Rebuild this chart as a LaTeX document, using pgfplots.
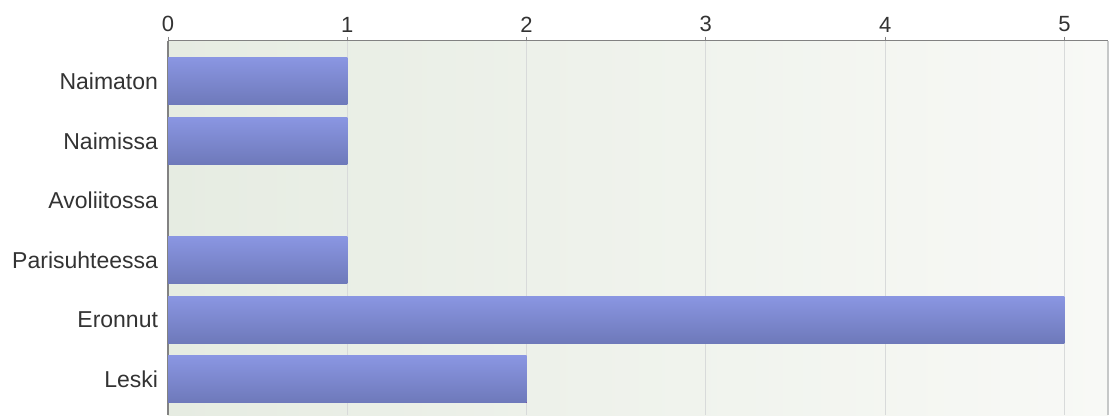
\documentclass[border=0pt]{standalone}
\usepackage{fontspec}
\setmainfont{Liberation Sans}
\usepackage{pgfplots}
\pgfplotsset{compat=1.18}
\definecolor{bartop}{RGB}{138,150,226}
\definecolor{barbot}{RGB}{110,121,186}
\definecolor{bgl}{RGB}{230,236,226}
\definecolor{bgr}{RGB}{248,249,246}
\definecolor{gridc}{RGB}{216,218,218}
\definecolor{axc}{RGB}{130,130,130}
\definecolor{txt}{RGB}{51,51,51}
\begin{document}
\begin{tikzpicture}[x=1pt,y=1pt]
\begin{axis}[
  at={(168pt,0pt)}, anchor=south west,
  scale only axis, width=940pt, height=374.3pt,
  xmin=0, xmax=5.243,
  ymin=-0.68, ymax=5.6,
  y dir=reverse,
  xbar, bar width=0.79, bar shift=0pt,
  axis x line*=top, axis y line*=left,
  axis line style={draw=axc, line width=1.3pt},
  axis background/.style={left color=bgl, right color=bgr},
  xtick={0,1,2,3,4,5},
  xtick align=outside, major tick length=4pt,
  xtick style={draw=axc, line width=1pt},
  ytick={0,1,2,3,4,5},
  yticklabels={Naimaton,Naimissa,Avoliitossa,Parisuhteessa,Eronnut,Leski},
  ytick style={draw=none},
  xmajorgrids, major grid style={draw=gridc, line width=1.2pt},
  ticklabel style={text=txt},
  yticklabel style={font=\fontsize{23}{25}\selectfont, xshift=-2.5pt},
  xticklabel style={font=\fontsize{22}{24}\selectfont},
  /pgf/number format/assume math mode=true,
  xticklabel shift=1pt,
  every axis plot/.append style={draw=none, top color=bartop, bottom color=barbot},
  clip=false,
]
\addplot coordinates {(1,0)};
\addplot coordinates {(1,1)};
\addplot coordinates {(1,3)};
\addplot coordinates {(5,4)};
\addplot coordinates {(2,5)};
\draw[draw=gridc!80!gray, line width=1.3pt] (rel axis cs:1,0) -- (rel axis cs:1,1);
\end{axis}
\pgfresetboundingbox
\useasboundingbox (0,0) rectangle (1110pt,415pt);
\end{tikzpicture}
\end{document}
